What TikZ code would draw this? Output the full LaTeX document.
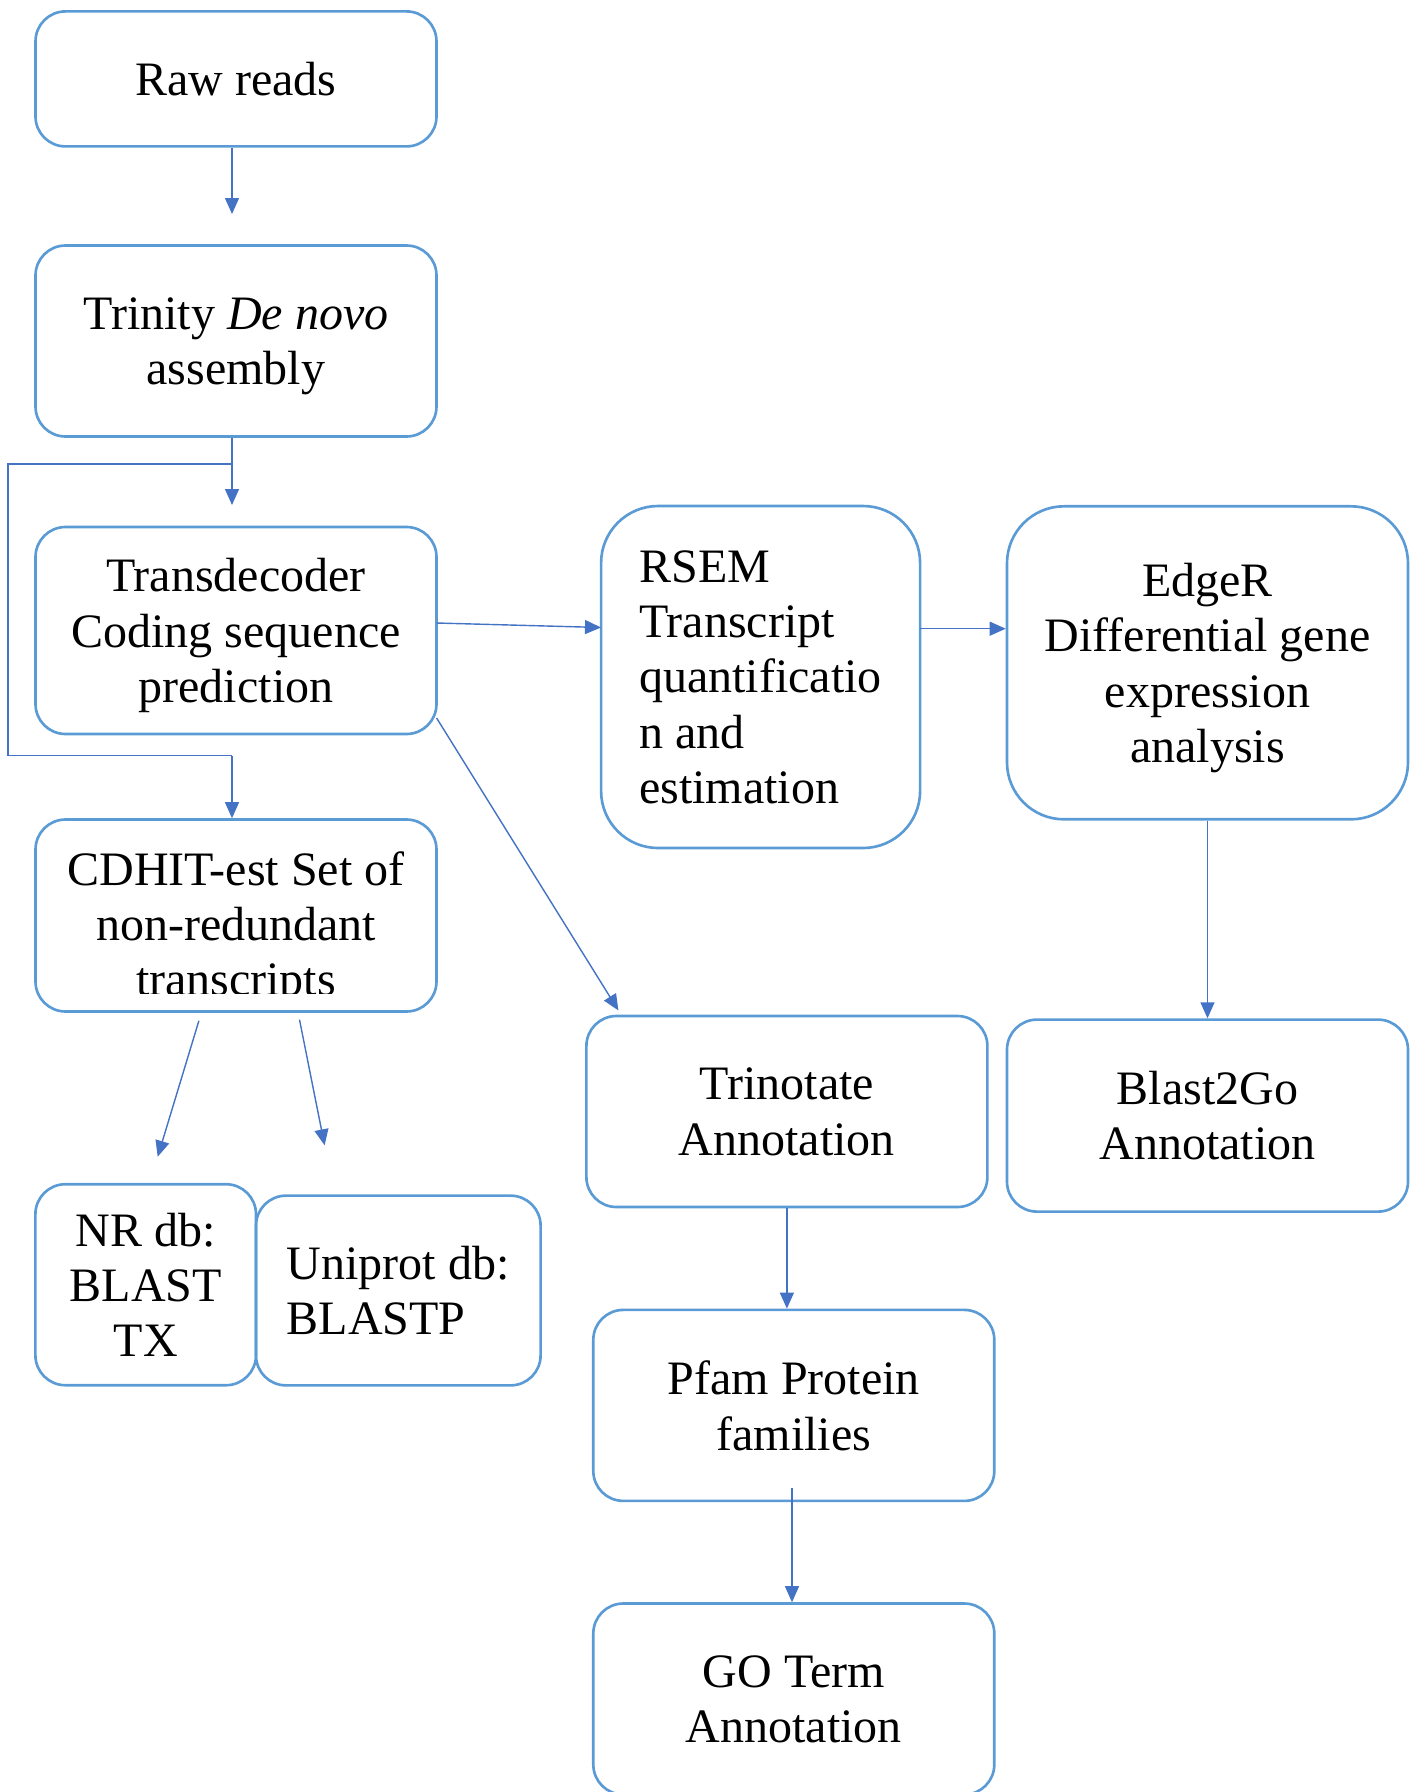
\documentclass[tikz,border=0pt]{standalone}
\usepackage{fontspec}
\setmainfont{Liberation Serif}
\usepackage{tikz}
\usetikzlibrary{arrows.meta}
\definecolor{boxblue}{HTML}{5B9BD5}
\definecolor{linkblue}{HTML}{4472C4}

\begin{document}
\begin{tikzpicture}[
	txt/.style={align=center, inner sep=0pt, text depth=-1pt, font=\fontsize{13.66pt}{15.75pt}\selectfont},
	box/.style={txt, draw=boxblue, line width=0.75pt, rounded corners=0.3cm, minimum width=4.01cm, minimum height=1.91cm},
	bigbox/.style={box, rounded corners=0.57cm},
	line/.style={color=linkblue, line width=0.4pt},
	link/.style={line, -{Triangle[width=1.4mm,length=1.6mm]}}
]
	\useasboundingbox (0,0) rectangle (14.15,-17.92);

	\node[box, minimum height=1.35cm] (raw) at (2.36,-0.789) {Raw reads};
	\node[box] (trinity) at (2.36,-3.41) {Trinity \textit{De novo}\\assembly};
	\node[box, minimum height=2.07cm] (transdec) at (2.36,-6.305) {Transdecoder\\Coding sequence\\prediction};
	\node[box, minimum height=1.92cm] (cdhit) at (2.36,-9.155) {};
	\begin{scope}
		\clip (0.4,-8.3) rectangle (4.3,-9.935);
		\node[txt] (cdhittext) at (2.36,-9.235) {CDHIT-est Set of\\non-redundant\\transcripts};
	\end{scope}
	\node[box, minimum width=2.206cm, minimum height=2.01cm] (nr) at (1.457,-12.847) {NR db:\\BLAST\\TX};
	\node[box, minimum width=2.846cm, minimum height=1.897cm, align=left] (uniprot) at (3.983,-12.905) {Uniprot db:\\BLASTP};
	\node[bigbox, minimum width=3.19cm, minimum height=3.42cm, align=left] (rsem) at (7.606,-6.77) {RSEM\\Transcript\\quantificatio\\n and\\estimation};
	\node[bigbox, minimum height=3.13cm] (edger) at (12.075,-6.628) {EdgeR\\Differential gene\\expression\\analysis};
	\node[box] (trinotate) at (7.869,-11.115) {Trinotate\\Annotation};
	\node[box, minimum height=1.92cm] (blast2go) at (12.075,-11.156) {Blast2Go\\Annotation};
	\node[box] (pfam) at (7.938,-14.054) {Pfam Protein\\families};
	\node[box] (goterm) at (7.938,-16.99) {GO Term\\Annotation};

	\coordinate (a1) at (2.32,-2.14);
	\coordinate (a2) at (2.32,-5.05);
	\coordinate (split) at (2.32,-4.64);
	\coordinate (loopa) at (0.08,-4.64);
	\coordinate (loopb) at (2.32,-7.555);
	\coordinate (tdright) at (4.366,-6.23);
	\coordinate (rsemin) at (6.01,-6.275);
	\coordinate (rsemout) at (9.2,-6.287);
	\coordinate (tdout) at (4.366,-7.18);
	\coordinate (tnin) at (6.184,-10.104);
	\coordinate (nrout) at (1.989,-10.207);
	\coordinate (nrin) at (1.577,-11.567);
	\coordinate (upout) at (2.995,-10.196);
	\coordinate (upin) at (3.246,-11.453);
	\coordinate (pfout) at (7.92,-14.88);

	\path[link] (raw.south -| a1) edge (a1);
	\path[link] (trinity.south -| a2) edge (a2);
	\draw[line] (split) -- (loopa) |- (loopb);
	\path[link] (loopb) edge (loopb |- cdhit.north);
	\path[link] (tdright) edge (rsemin);
	\path[link] (rsemout) edge (edger.west |- rsemout);
	\path[link] (edger) edge (blast2go);
	\path[link] (tdout) edge (tnin);
	\path[link] (trinotate.south) edge (trinotate.south |- pfam.north);
	\path[link] (pfout) edge (pfout |- goterm.north);
	\path[link] (nrout) edge (nrin);
	\path[link] (upout) edge (upin);
\end{tikzpicture}
\end{document}
